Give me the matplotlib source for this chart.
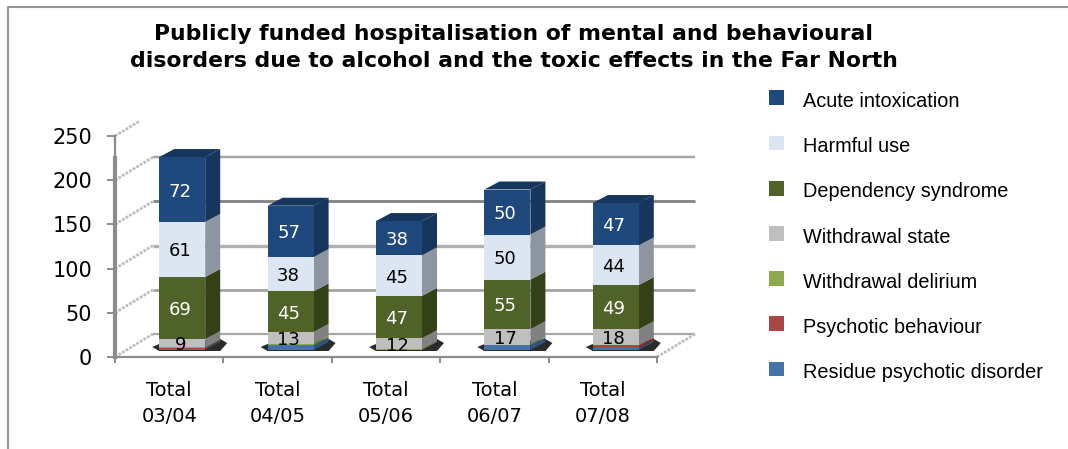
#!/usr/bin/env python3
import numpy as np
import matplotlib
matplotlib.use("Agg")
import matplotlib.pyplot as plt
from matplotlib.legend_handler import HandlerPatch
from matplotlib.lines import Line2D
from matplotlib.patches import Patch, Rectangle

W, H = 1068, 449

categories = ["Total\n03/04", "Total\n04/05", "Total\n05/06", "Total\n06/07", "Total\n07/08"]
yticks = [0, 50, 100, 150, 200, 250]

# bottom to top of the stack
residue = [1, 5, 0, 5, 2]
psychotic = [1, 0, 0, 0, 3]
delirium = [1, 2, 1, 1, 0]
withdrawal = [9, 13, 12, 17, 18]
dependency = [69, 45, 47, 55, 49]
harmful = [61, 38, 45, 50, 44]
acute = [72, 57, 38, 50, 47]

stack = [residue, psychotic, delirium, withdrawal, dependency, harmful, acute]
names = ["Residue psychotic disorder", "Psychotic behaviour", "Withdrawal delirium",
         "Withdrawal state", "Dependency syndrome", "Harmful use", "Acute intoxication"]
front = ["#4572A7", "#AA4643", "#8DA94F", "#BFBFBF", "#4F6228", "#DCE6F2", "#1F497D"]
side = ["#2F5380", "#7E2F2D", "#66803A", "#808080", "#344118", "#8C95A0", "#17365D"]
txt = ["k", "k", "k", "k", "white", "k", "white"]

fig = plt.figure(figsize=(W / 100, H / 100), dpi=100)
ax = fig.add_axes([115 / W, 1 - 357 / H, 542 / W, 221 / H])
ax.set_xlim(0, 5)
ax.set_ylim(0, 250)
ax.patch.set_alpha(0)

# pixels to data units
px = 5 / 542
py = 250 / 221

# back wall
wall_dx, wall_dy = 38 * px, 23 * py
widths = [2, 2.4, 3, 2.6, 2.2]
cols = ["#a6a6a6", "#a0a0a0", "#b0b0b0", "#868686", "#a6a6a6"]
for t, lw, c in zip(yticks[:-1], widths, cols):
    ax.plot([wall_dx, 5 + wall_dx], [t + wall_dy, t + wall_dy], color=c, lw=lw * 0.8,
            clip_on=False, zorder=1, solid_capstyle="butt")
for t in yticks:
    frac = 0.65 if t == 250 else 1
    ax.plot([0, wall_dx * frac], [t, t + wall_dy * frac], color="#bdbdbd", lw=2, ls=(0, (1, 0.5)),
            clip_on=False, zorder=1)
ax.plot([5, 5 + wall_dx], [0, wall_dy], color="#bdbdbd", lw=2, ls=(0, (1, 0.5)),
        clip_on=False, zorder=1)

# bars
bar_w = 46 * px
bar_off = 13 * px
base = 7 * py
dep_x, dep_y = 15 * px, 8 * py
bar_scale = 1.02

x = np.arange(len(categories)) + 0.5 + bar_off
for xi in x:
    l = xi - bar_w / 2
    sx = [l - 7 * px, l, l + bar_w + dep_x, l + bar_w + 22 * px, l + bar_w + dep_x, l]
    sy = [base + 3 * py, base + 6 * py, base + 11 * py, base + 7 * py, base - 1 * py, base - 1 * py]
    ax.fill(sx, sy, color="#2a2a2a", lw=0, zorder=2, clip_on=False)

bottom = np.full(len(categories), base, dtype=float)
for vals, fc, sc, tc in zip(stack, front, side, txt):
    h = np.array(vals, dtype=float) * bar_scale
    ax.bar(x, h, bar_w, bottom=bottom, color=fc, lw=0, zorder=4)
    for i, xi in enumerate(x):
        if h[i] == 0:
            continue
        r = xi + bar_w / 2
        ax.fill([r, r + dep_x, r + dep_x, r],
                [bottom[i], bottom[i] + dep_y, bottom[i] + h[i] + dep_y, bottom[i] + h[i]],
                color=sc, lw=0, zorder=3, clip_on=False)
        if vals[i] >= 9:
            ax.text(xi - 2 * px, bottom[i] + h[i] / 2 - 2 * py, str(vals[i]), color=tc, ha="center",
                    va="center", fontsize=13, zorder=5, clip_on=False)
    bottom = bottom + h

for i, xi in enumerate(x):
    l, r = xi - bar_w / 2, xi + bar_w / 2
    ax.fill([l, r, r + dep_x, l + dep_x],
            [bottom[i], bottom[i], bottom[i] + dep_y, bottom[i] + dep_y],
            color=side[-1], lw=0, zorder=3, clip_on=False)

# axes
for s in ["top", "right"]:
    ax.spines[s].set_visible(False)
for s in ["left", "bottom"]:
    ax.spines[s].set_color("#8c8c8c")
    ax.spines[s].set_linewidth(1.6)
ax.plot([0, 0], [0, 225], color="#8c8c8c", lw=3, clip_on=False, zorder=2)

ax.set_yticks(yticks)
ax.set_xticks(np.arange(6))
ax.set_xticklabels([])
ax.set_xticks(np.arange(5) + 0.5, labels=categories, minor=True)
ax.tick_params(axis="y", length=5.8, width=1.4, color="#8c8c8c", pad=10.5, labelsize=15)
ax.tick_params(axis="x", which="major", length=4.5, width=1.4, color="#8c8c8c")
ax.tick_params(axis="x", which="minor", length=0, pad=17, labelsize=14)
plt.setp(ax.get_xticklabels(minor=True), linespacing=1.48)

fig.text(514 / W, 1 - 47.5 / H, "Publicly funded hospitalisation of mental and behavioural\n"
         "disorders due to alcohol and the toxic effects in the Far North",
         ha="center", va="center", fontsize=15.75, fontweight="bold", linespacing=1.42)


def square(legend, orig_handle, xdescent, ydescent, width, height, fontsize):
    # legend squares sit a little above the middle of the text
    return Rectangle((-xdescent, -ydescent + 1.6), width, height)


handles = [Patch(facecolor=c, lw=0) for c in front[::-1]]
fig.legend(handles, names[::-1], loc="upper left", bbox_to_anchor=(751 / W, 1 - 74 / H),
           frameon=False, prop={"family": "Liberation Sans", "size": 14.3},
           handlelength=0.76, handleheight=0.76, handletextpad=0.98, labelspacing=1.32,
           handler_map={Patch: HandlerPatch(patch_func=square)})

# chart frame, cut off at the right and bottom
fig.add_artist(Line2D([8 / W, 8 / W, 1], [0, 1 - 6.5 / H, 1 - 6.5 / H], color="#969696", lw=1.5))

fig.savefig("out.png", dpi=100)
